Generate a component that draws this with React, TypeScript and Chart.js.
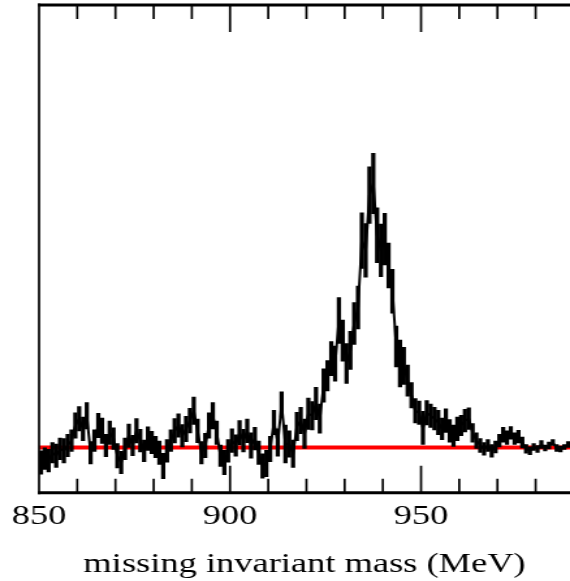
import React, { useEffect, useRef } from 'react';
import { Chart, registerables } from 'chart.js';

Chart.register(...registerables);

// Histogram: 1 MeV bins starting at 850 MeV
const binLow = 850;
const binWidth = 1;

// Counts per bin (arbitrary units, y axis 0..100)
const counts = [
  6.2, 7.0, 6.6, 8.2, 7.6, 9.0, 8.6, 9.7, 10.7, 13.8,
  15.2, 13.1, 15.8, 8.2, 10.7, 13.8, 12.7, 9.7, 12.3, 11.1,
  7.6, 6.2, 9.0, 11.7, 9.7, 12.7, 10.7, 8.6, 11.1, 10.3,
  9.4, 8.2, 5.5, 8.6, 10.7, 12.7, 13.8, 11.7, 13.1, 14.8,
  16.8, 12.7, 8.2, 9.7, 13.8, 15.8, 12.3, 7.6, 6.2, 8.6,
  10.7, 9.7, 12.3, 10.7, 12.7, 9.7, 11.1, 8.2, 5.5, 6.0,
  9.0, 14.4, 10.3, 18.1, 10.0, 10.0, 8.0, 13.6, 14.8, 12.1,
  16.2, 15.8, 18.3, 15.2, 22.0, 24.0, 27.5, 26.5, 35.3, 31.2,
  26.5, 29.2, 34.7, 38.0, 51.7, 49.7, 61.0, 63.4, 52.8, 49.7,
  52.0, 46.6, 41.3, 30.0, 26.5, 26.0, 23.0, 20.0, 16.8, 16.4,
  13.3, 16.4, 15.8, 15.2, 14.4, 13.1, 14.8, 12.7, 11.7, 13.1,
  13.8, 14.8, 15.2, 12.3, 10.7, 9.7, 9.0, 9.7, 8.6, 9.4,
  10.7, 11.9, 11.3, 12.3, 11.1, 11.5, 10.3, 9.0, 8.6, 9.4,
  9.0, 9.9, 9.2, 9.7, 10.3, 9.2, 9.0, 9.4, 9.9,
];

// Statistical error (half length of error bar) per bin
const errors = [
  2.4, 2.2, 2.3, 2.1, 2.4, 2.2, 2.5, 2.3, 2.2, 2.6,
  2.5, 2.4, 2.7, 2.3, 2.2, 2.5, 2.6, 2.3, 2.4, 2.2,
  2.5, 2.3, 2.2, 2.4, 2.1, 2.5, 2.3, 2.2, 2.4, 2.3,
  2.2, 2.4, 2.6, 2.3, 2.2, 2.5, 2.4, 2.3, 2.6, 2.5,
  2.8, 2.4, 2.3, 2.5, 2.6, 2.7, 2.4, 2.2, 2.5, 2.3,
  2.4, 2.2, 2.5, 2.3, 2.4, 2.6, 2.3, 2.4, 2.5, 2.7,
  2.6, 2.5, 2.8, 2.6, 3.9, 2.7, 2.8, 2.9, 2.7, 3.0,
  3.2, 2.9, 3.3, 3.0, 3.4, 3.1, 3.5, 3.6, 4.7, 4.2,
  4.1, 3.9, 4.3, 4.4, 5.7, 5.5, 5.8, 6.2, 5.6, 5.4,
  5.3, 4.6, 4.5, 4.2, 4.8, 3.8, 3.2, 2.6, 2.5, 2.4,
  3.4, 2.5, 2.4, 2.3, 2.5, 2.2, 2.4, 2.3, 2.2, 2.4,
  2.1, 2.3, 2.2, 1.9, 1.6, 1.4, 1.3, 1.2, 1.3, 1.2,
  1.3, 1.5, 1.4, 1.3, 1.2, 1.3, 1.1, 0.9, 0.8, 0.7,
  0.7, 0.8, 0.6, 0.7, 0.6, 0.7, 0.6, 0.5, 0.6,
];

const backgroundLevel = 9.3;
const xMin = 850;
const xMax = 989;
const yMin = 0;
const yMax = 100;
const labeledTicks = [850, 900, 950];
const minorTickValues = [860, 870, 880, 890, 910, 920, 930, 940, 960, 970, 980];
const majorTickValues = [900, 950];
const axisTitle = 'missing invariant mass (MeV)';

// canvas is drawn narrower and shown stretched horizontally, like the reference
const INTERNAL_W = 438;
const DISPLAY_W = 570;
const H = 581;
const FONT = "'Liberation Serif', 'Times New Roman', serif";

const framePlugin = {
  id: 'frameTicks',
  afterDraw(chart: any) {
    const ctx = chart.ctx;
    const area = chart.chartArea;
    const left = area.left;
    const right = area.right;
    const top = area.top;
    const bottom = area.bottom;
    const xs = chart.scales['x'];
    ctx.save();
    ctx.strokeStyle = '#000000';
    ctx.lineCap = 'butt';
    ctx.lineWidth = 1.7;
    ctx.beginPath();
    ctx.moveTo(left, top - 1.5);
    ctx.lineTo(left, bottom + 1.5);
    ctx.stroke();
    ctx.lineWidth = 3;
    ctx.beginPath();
    ctx.moveTo(left - 0.8, top);
    ctx.lineTo(right, top);
    ctx.moveTo(left - 0.8, bottom);
    ctx.lineTo(right, bottom);
    ctx.stroke();
    ctx.lineWidth = 1.7;
    ctx.beginPath();
    for (let i = 0; i < minorTickValues.length; i++) {
      const px = xs.getPixelForValue(minorTickValues[i]);
      ctx.moveTo(px, top);
      ctx.lineTo(px, top + 14);
      ctx.moveTo(px, bottom);
      ctx.lineTo(px, bottom - 14);
    }
    for (let i = 0; i < majorTickValues.length; i++) {
      const px = xs.getPixelForValue(majorTickValues[i]);
      ctx.moveTo(px, top);
      ctx.lineTo(px, top + 27);
      ctx.moveTo(px, bottom);
      ctx.lineTo(px, bottom - 27);
    }
    ctx.stroke();
    ctx.restore();
  },
};

export default function App() {
  const ref = useRef<HTMLCanvasElement | null>(null);
  useEffect(() => {
    const canvas = ref.current;
    if (!canvas) return;
    const centers = counts.map((_, i) => binLow + (i + 0.5) * binWidth);
    const bars = counts.map((c, i) => ({ x: centers[i], y: [c - errors[i], c + errors[i]] }));
    const points = counts.map((c, i) => ({ x: centers[i], y: c }));
    const chart = new Chart(canvas, {
      type: 'bar',
      data: {
        datasets: [
          {
            type: 'bar',
            data: bars as any,
            backgroundColor: '#000',
            borderWidth: 0,
            barThickness: 2.6,
            grouped: false,
            order: 1,
          } as any,
          {
            type: 'line',
            data: points as any,
            borderColor: '#000',
            borderWidth: 2.0,
            pointRadius: 0,
            tension: 0,
            order: 2,
          } as any,
          {
            type: 'line',
            data: [
              { x: xMin, y: backgroundLevel },
              { x: xMax, y: backgroundLevel },
            ] as any,
            borderColor: '#ff0000',
            borderWidth: 4,
            pointRadius: 0,
            order: 3,
          } as any,
        ],
      },
      options: {
        responsive: false,
        animation: false,
        devicePixelRatio: 1,
        layout: { padding: { left: 30, right: 0, top: 5, bottom: 0 } },
        plugins: { legend: { display: false }, tooltip: { enabled: false } },
        scales: {
          x: {
            type: 'linear',
            min: xMin,
            max: xMax,
            offset: false,
            grid: { display: false, drawTicks: true, tickLength: 7, color: 'rgba(0,0,0,0)' },
            border: { display: false },
            ticks: {
              stepSize: 10,
              autoSkip: false,
              maxRotation: 0,
              minRotation: 0,
              padding: 0,
              color: '#000',
              font: { family: FONT, size: 28 },
              callback: (v: any) => (labeledTicks.includes(Number(v)) ? String(v) : ''),
            },
            title: {
              display: true,
              text: axisTitle,
              color: '#000',
              font: { family: FONT, size: 28 },
              padding: { top: 14, bottom: 0 },
            },
          },
          y: { type: 'linear', min: yMin, max: yMax, display: false },
        },
      } as any,
      plugins: [framePlugin],
    });
    return () => chart.destroy();
  }, []);
  return (
    <div style={{ position: 'absolute', left: 0, top: 0, width: DISPLAY_W, height: H, overflow: 'hidden', background: '#fff' }}>
      <canvas
        ref={ref}
        width={INTERNAL_W}
        height={H}
        style={{ width: DISPLAY_W + 'px', height: H + 'px', display: 'block' }}
      />
    </div>
  );
}
